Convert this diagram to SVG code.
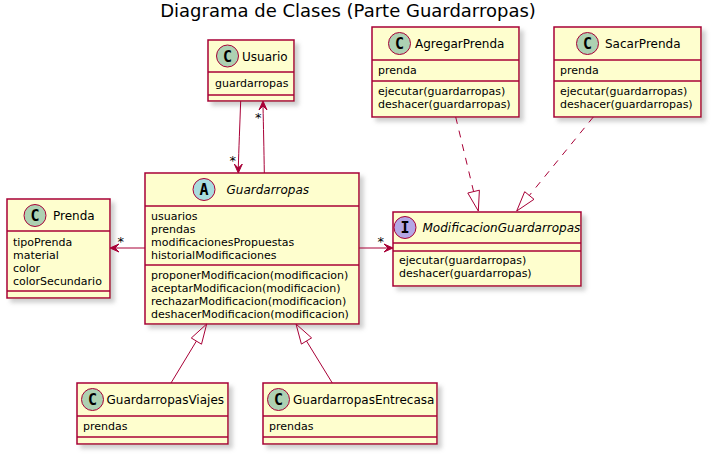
<svg xmlns="http://www.w3.org/2000/svg" width="714" height="457" viewBox="0 0 714 457">
<defs>
<filter id="sh" x="-20%" y="-20%" width="150%" height="150%">
<feGaussianBlur in="SourceAlpha" stdDeviation="2"/>
<feOffset dx="4" dy="4" result="b"/>
<feColorMatrix in="b" type="matrix" values="0 0 0 0 0.3  0 0 0 0 0.3  0 0 0 0 0.3  0 0 0 0.45 0" result="c"/>
<feMerge><feMergeNode in="c"/><feMergeNode in="SourceGraphic"/></feMerge>
</filter>
</defs>
<style>
.box{fill:#FEFECE;stroke:#A80036;stroke-width:1.5;filter:url(#sh)}
.sep{stroke:#A80036;stroke-width:1.5}
.nm{font-family:"DejaVu Sans",sans-serif;font-size:12px;fill:#000}
.it{font-style:italic}
.tx{font-family:"DejaVu Sans",sans-serif;font-size:11px;fill:#000}
.lb{font-family:"DejaVu Sans",sans-serif;font-size:13px;fill:#000;text-anchor:middle}
.ci{stroke:#A80036;stroke-width:1}
.cc{fill:#ADD1B2}.ca{fill:#A9DCDF}.cin{fill:#B4A7E5}
.gl{font-family:"DejaVu Sans Mono",monospace;font-weight:bold;font-size:15px;fill:#000;text-anchor:middle}
.ln{fill:none;stroke:#A80036;stroke-width:1}
.dash{stroke-dasharray:7,7}
.ah{fill:#A80036;stroke:#A80036;stroke-width:1}
.tri{fill:none;stroke:#A80036;stroke-width:1}
</style>
<rect width="714" height="457" fill="#FFFFFF"/>
<text x="348" y="17" font-family="DejaVu Sans,sans-serif" font-size="18" text-anchor="middle">Diagrama de Clases (Parte Guardarropas)</text>

<g id="Usuario">
<rect class="box" x="208" y="40" width="86" height="61"/>
<circle class="ci cc" cx="227.5" cy="56" r="11"/>
<text class="gl" x="227.5" y="61.5">C</text>
<text class="nm" x="242" y="60.5">Usuario</text>
<line class="sep" x1="208" y1="72" x2="294" y2="72"/>
<text class="tx" x="215" y="86.5">guardarropas</text>
<line class="sep" x1="208" y1="95" x2="294" y2="95"/>
</g>

<g id="AgregarPrenda">
<rect class="box" x="372" y="27" width="147" height="90"/>
<circle class="ci cc" cx="399.5" cy="43.5" r="11"/>
<text class="gl" x="399.5" y="49">C</text>
<text class="nm" x="415" y="48">AgregarPrenda</text>
<line class="sep" x1="372" y1="60" x2="519" y2="60"/>
<text class="tx" x="378" y="74">prenda</text>
<line class="sep" x1="372" y1="81" x2="519" y2="81"/>
<text class="tx" x="378" y="94.5">ejecutar(guardarropas)</text>
<text class="tx" x="378" y="107.5">deshacer(guardarropas)</text>
</g>

<g id="SacarPrenda">
<rect class="box" x="554" y="27" width="147" height="90"/>
<circle class="ci cc" cx="587.5" cy="43.5" r="11"/>
<text class="gl" x="587.5" y="49">C</text>
<text class="nm" x="605" y="48">SacarPrenda</text>
<line class="sep" x1="554" y1="60" x2="701" y2="60"/>
<text class="tx" x="560" y="74">prenda</text>
<line class="sep" x1="554" y1="81" x2="701" y2="81"/>
<text class="tx" x="560" y="94.5">ejecutar(guardarropas)</text>
<text class="tx" x="560" y="107.5">deshacer(guardarropas)</text>
</g>

<g id="Guardarropas">
<rect class="box" x="145" y="173" width="214" height="151"/>
<circle class="ci ca" cx="204" cy="189.5" r="11"/>
<text class="gl" x="204" y="195">A</text>
<text class="nm it" x="226.5" y="194">Guardarropas</text>
<line class="sep" x1="145" y1="206" x2="359" y2="206"/>
<text class="tx" x="151" y="220">usuarios</text>
<text class="tx" x="151" y="233">prendas</text>
<text class="tx" x="151" y="246">modificacionesPropuestas</text>
<text class="tx" x="151" y="259">historialModificaciones</text>
<line class="sep" x1="145" y1="265" x2="359" y2="265"/>
<text class="tx" x="151" y="279">proponerModificacion(modificacion)</text>
<text class="tx" x="151" y="292">aceptarModificacion(modificacion)</text>
<text class="tx" x="151" y="305">rechazarModificacion(modificacion)</text>
<text class="tx" x="151" y="318">deshacerModificacion(modificacion)</text>
</g>

<g id="Prenda">
<rect class="box" x="7" y="199" width="103" height="99"/>
<circle class="ci cc" cx="35" cy="215.5" r="11"/>
<text class="gl" x="35" y="221">C</text>
<text class="nm" x="53" y="220">Prenda</text>
<line class="sep" x1="7" y1="231" x2="110" y2="231"/>
<text class="tx" x="13" y="245.5">tipoPrenda</text>
<text class="tx" x="13" y="258.5">material</text>
<text class="tx" x="13" y="271.5">color</text>
<text class="tx" x="13" y="284.5">colorSecundario</text>
<line class="sep" x1="7" y1="291" x2="110" y2="291"/>
</g>

<g id="ModificacionGuardarropas">
<rect class="box" x="393" y="212" width="188" height="74"/>
<circle class="ci cin" cx="405" cy="227.5" r="11"/>
<text class="gl" x="405" y="233">I</text>
<text class="nm it" x="422.5" y="232">ModificacionGuardarropas</text>
<line class="sep" x1="393" y1="243" x2="581" y2="243"/>
<line class="sep" x1="393" y1="251" x2="581" y2="251"/>
<text class="tx" x="399" y="264">ejecutar(guardarropas)</text>
<text class="tx" x="399" y="277">deshacer(guardarropas)</text>
</g>

<g id="GuardarropasViajes">
<rect class="box" x="77" y="383" width="151" height="61"/>
<circle class="ci cc" cx="92.5" cy="399.5" r="11"/>
<text class="gl" x="92.5" y="405">C</text>
<text class="nm" x="106.5" y="404">GuardarropasViajes</text>
<line class="sep" x1="77" y1="416" x2="228" y2="416"/>
<text class="tx" x="83" y="430">prendas</text>
<line class="sep" x1="77" y1="437" x2="228" y2="437"/>
</g>

<g id="GuardarropasEntrecasa">
<rect class="box" x="263" y="383" width="174" height="61"/>
<circle class="ci cc" cx="278.5" cy="399.5" r="11"/>
<text class="gl" x="278.5" y="405">C</text>
<text class="nm" x="293" y="404">GuardarropasEntrecasa</text>
<line class="sep" x1="263" y1="416" x2="437" y2="416"/>
<text class="tx" x="269" y="430">prendas</text>
<line class="sep" x1="263" y1="437" x2="437" y2="437"/>
</g>

<g id="connectors">
<path class="ln" d="M240.7,101 C239.8,125 238.8,150 238.3,168"/>
<polygon class="ah" points="238.3,173 234.3,164 238.3,168 242.3,164"/>
<text class="lb" x="232.7" y="164.5">*</text>

<path class="ln" d="M264.3,173 C264,150 263.4,125 263,106"/>
<polygon class="ah" points="263,101 259,110 263,106 267,110"/>
<text class="lb" x="258.3" y="122">*</text>

<line class="ln" x1="145" y1="248" x2="115" y2="248"/>
<polygon class="ah" points="110,248 119,244 115,248 119,252"/>
<text class="lb" x="120.7" y="246">*</text>

<line class="ln" x1="359" y1="248" x2="388" y2="248"/>
<polygon class="ah" points="393,248 384,244 388,248 384,252"/>
<text class="lb" x="380.7" y="246">*</text>

<line class="ln dash" x1="455.7" y1="117" x2="473.6" y2="191.6"/>
<polygon class="tri" points="478.3,211 479.4,190.2 467.8,193"/>

<line class="ln dash" x1="593.3" y1="117" x2="529.3" y2="195.5"/>
<polygon class="tri" points="516.7,211 524.7,191.7 534,199.3"/>

<line class="ln" x1="171" y1="383" x2="196.4" y2="341.1"/>
<polygon class="tri" points="206.7,324 201.5,344.2 191.3,338"/>

<line class="ln" x1="332.3" y1="383" x2="306.5" y2="341"/>
<polygon class="tri" points="296,324 311.6,337.9 301.4,344.1"/>
</g>
</svg>
